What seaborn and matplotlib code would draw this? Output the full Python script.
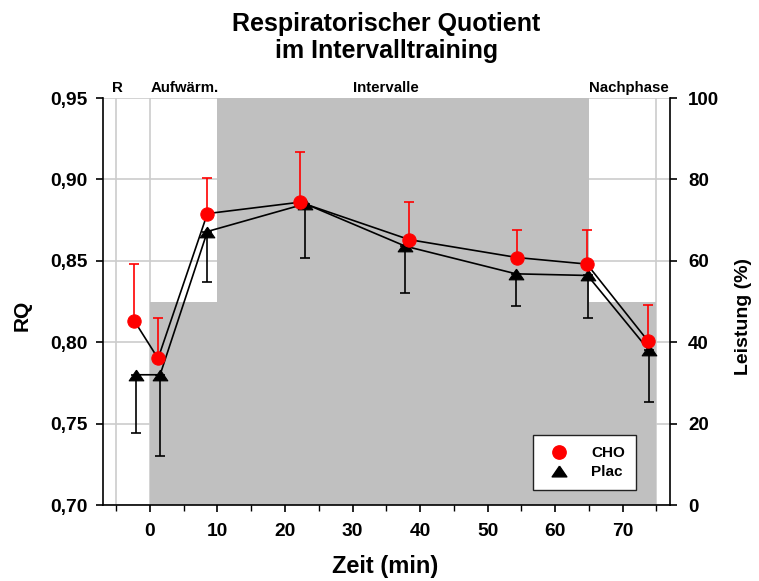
import numpy as np
import pandas as pd
import matplotlib
matplotlib.use("Agg")
import matplotlib.pyplot as plt
import matplotlib.transforms as mtransforms
from matplotlib.lines import Line2D
from matplotlib.ticker import FixedLocator, FixedFormatter
import seaborn as sns

# ---------------- data ----------------
time_cho = [-2.3, 1.2, 8.5, 22.2, 38.4, 54.4, 64.7, 73.7]
rq_cho = [0.813, 0.790, 0.879, 0.886, 0.863, 0.852, 0.848, 0.801]
err_cho = [0.035, 0.025, 0.022, 0.031, 0.023, 0.017, 0.021, 0.022]

time_plac = [-2.0, 1.5, 8.5, 23.0, 37.8, 54.2, 64.8, 73.9]
rq_plac = [0.780, 0.780, 0.868, 0.885, 0.859, 0.842, 0.841, 0.795]
err_plac = [0.036, 0.050, 0.031, 0.033, 0.029, 0.020, 0.026, 0.032]

phase_names = ["R", "Aufwärm.", "Intervalle", "Nachphase"]
phase_label_x = [-4.8, 5.2, 35.0, 70.9]
phase_start = [-5, 0, 10, 65]
phase_end = [0, 10, 65, 75]
leistung = [0, 50, 100, 50]
phase_lines = [-5, 0, 75]

x_ticks = [0, 10, 20, 30, 40, 50, 60, 70]
x_minor = [-5, 5, 15, 25, 35, 45, 55, 65, 75]
y_ticks = [0.70, 0.75, 0.80, 0.85, 0.90, 0.95]
y_tick_labels = ["0,70", "0,75", "0,80", "0,85", "0,90", "0,95"]
y2_ticks = [0, 20, 40, 60, 80, 100]

series_names = ["CHO", "Plac"]

# ---------------- style ----------------
sns.set_style("ticks")
plt.rcParams['font.family'] = ['Liberation Sans', 'DejaVu Sans']
plt.rcParams['font.weight'] = 'bold'
plt.rcParams['axes.labelweight'] = 'bold'
plt.rcParams['text.color'] = 'black'
plt.rcParams['axes.labelcolor'] = 'black'
plt.rcParams['xtick.color'] = 'black'
plt.rcParams['ytick.color'] = 'black'
plt.rcParams['axes.edgecolor'] = 'black'

# wide, flat triangle marker
tri = [(0.0, 0.73), (-1.0, -0.73), (1.0, -0.73), (0.0, 0.73)]

fig = plt.figure(figsize=(7.59, 5.81), dpi=100)
ax = fig.add_axes([0.1353, 0.1308, 0.8827 - 0.1353, 0.8313 - 0.1308])
ax2 = ax.twinx()

# ---- background: Leistung bars (right axis) ----
ax2.bar(phase_start, leistung, width=np.subtract(phase_end, phase_start),
        align='edge', color='#c0c0c0', linewidth=0, zorder=1)
ax2.set_ylim(0, 100)
ax2.yaxis.set_major_locator(FixedLocator(y2_ticks))
ax2.set_axisbelow(True)
ax2.yaxis.grid(True, color='#cccccc', linewidth=1.2)
for xv in phase_lines:
    ax2.axvline(xv, color='#cccccc', linewidth=1.2, zorder=0.6)
ax2.set_ylabel("Leistung (%)", fontsize=14, fontweight='bold')
ax2.yaxis.set_label_coords(1.13, 0.464)
ax2.yaxis.label.set_verticalalignment('center')

# ---- foreground axis ----
ax.set_zorder(ax2.get_zorder() + 1)
ax.patch.set_visible(False)

df_cho = pd.DataFrame({"Zeit": time_cho, "RQ": rq_cho, "err": err_cho})
df_plac = pd.DataFrame({"Zeit": time_plac, "RQ": rq_plac, "err": err_plac})

# Plac (below)
ax.errorbar(df_plac["Zeit"], df_plac["RQ"], yerr=[df_plac["err"], np.zeros(len(df_plac))],
            fmt='none', ecolor='black', elinewidth=1.2, capsize=3.5, capthick=1.2, zorder=2)
sns.lineplot(data=df_plac, x="Zeit", y="RQ", ax=ax, sort=False, estimator=None,
             color='black', linewidth=1.2, marker=tri, markersize=10.6,
             markerfacecolor='black', markeredgecolor='black', zorder=3)
# CHO (above)
ax.errorbar(df_cho["Zeit"], df_cho["RQ"], yerr=[np.zeros(len(df_cho)), df_cho["err"]],
            fmt='none', ecolor='red', elinewidth=1.2, capsize=3.5, capthick=1.2, zorder=4)
sns.lineplot(data=df_cho, x="Zeit", y="RQ", ax=ax, sort=False, estimator=None,
             color='black', linewidth=1.2, marker='o', markersize=9.6,
             markerfacecolor='red', markeredgecolor='red', zorder=5)

ax.set_xlim(-7, 77)
ax.set_ylim(0.70, 0.95)
ax.xaxis.set_major_locator(FixedLocator(x_ticks))
ax.xaxis.set_minor_locator(FixedLocator(x_minor))
ax.yaxis.set_major_locator(FixedLocator(y_ticks))
ax.yaxis.set_major_formatter(FixedFormatter(y_tick_labels))

ax.set_xlabel("Zeit (min)", fontsize=17, fontweight='bold')
ax.xaxis.set_label_coords(0.4976, -0.152)
ax.xaxis.label.set_verticalalignment('center')
ax.set_ylabel("RQ", fontsize=15, fontweight='bold')
ax.yaxis.set_label_coords(-0.1414, 0.467)
ax.yaxis.label.set_verticalalignment('center')

for a in (ax, ax2):
    a.spines['top'].set_visible(False)
    for s in ('left', 'right', 'bottom'):
        a.spines[s].set_linewidth(1.2)
        a.spines[s].set_color('black')
ax.spines['right'].set_visible(False)
ax2.spines['left'].set_visible(False)
ax2.spines['bottom'].set_visible(False)

ax.tick_params(axis='both', which='major', direction='out', length=5, width=1.2,
               labelsize=13.8, color='black', labelcolor='black')
ax.tick_params(axis='x', which='major', pad=8)
ax.tick_params(axis='y', which='major', pad=6)
ax.tick_params(axis='x', which='minor', direction='out', length=4, width=1.0, color='black')
ax2.tick_params(axis='y', which='major', direction='out', length=5, width=1.2,
                labelsize=13.5, color='black', labelcolor='black', pad=8)
for lab in ax.get_xticklabels() + ax.get_yticklabels() + ax2.get_yticklabels():
    lab.set_fontweight('bold')

# phase labels
trans = mtransforms.blended_transform_factory(ax.transData, ax.transAxes)
for name, xv in zip(phase_names, phase_label_x):
    ax.text(xv, 1.016, name, transform=trans, ha='center', va='baseline',
            fontsize=10.8, fontweight='bold')

ax.set_title("Respiratorischer Quotient\nim Intervalltraining", fontsize=18,
             fontweight='bold', pad=29, linespacing=1.12)

# legend
handles = [Line2D([], [], marker='o', color='red', linestyle='none', markersize=9.6),
           Line2D([], [], marker=tri, color='black', linestyle='none', markersize=10.6)]
leg = ax.legend(handles, series_names, loc='lower right', bbox_to_anchor=(0.94, 0.037),
                borderaxespad=0, frameon=True, fancybox=False, edgecolor='#222222',
                framealpha=1, prop={'weight': 'bold', 'size': 11}, borderpad=0.7,
                handlelength=2, handletextpad=1.1, labelspacing=0.35)
leg.get_frame().set_linewidth(1.0)

fig.savefig("out.png", dpi=100)
